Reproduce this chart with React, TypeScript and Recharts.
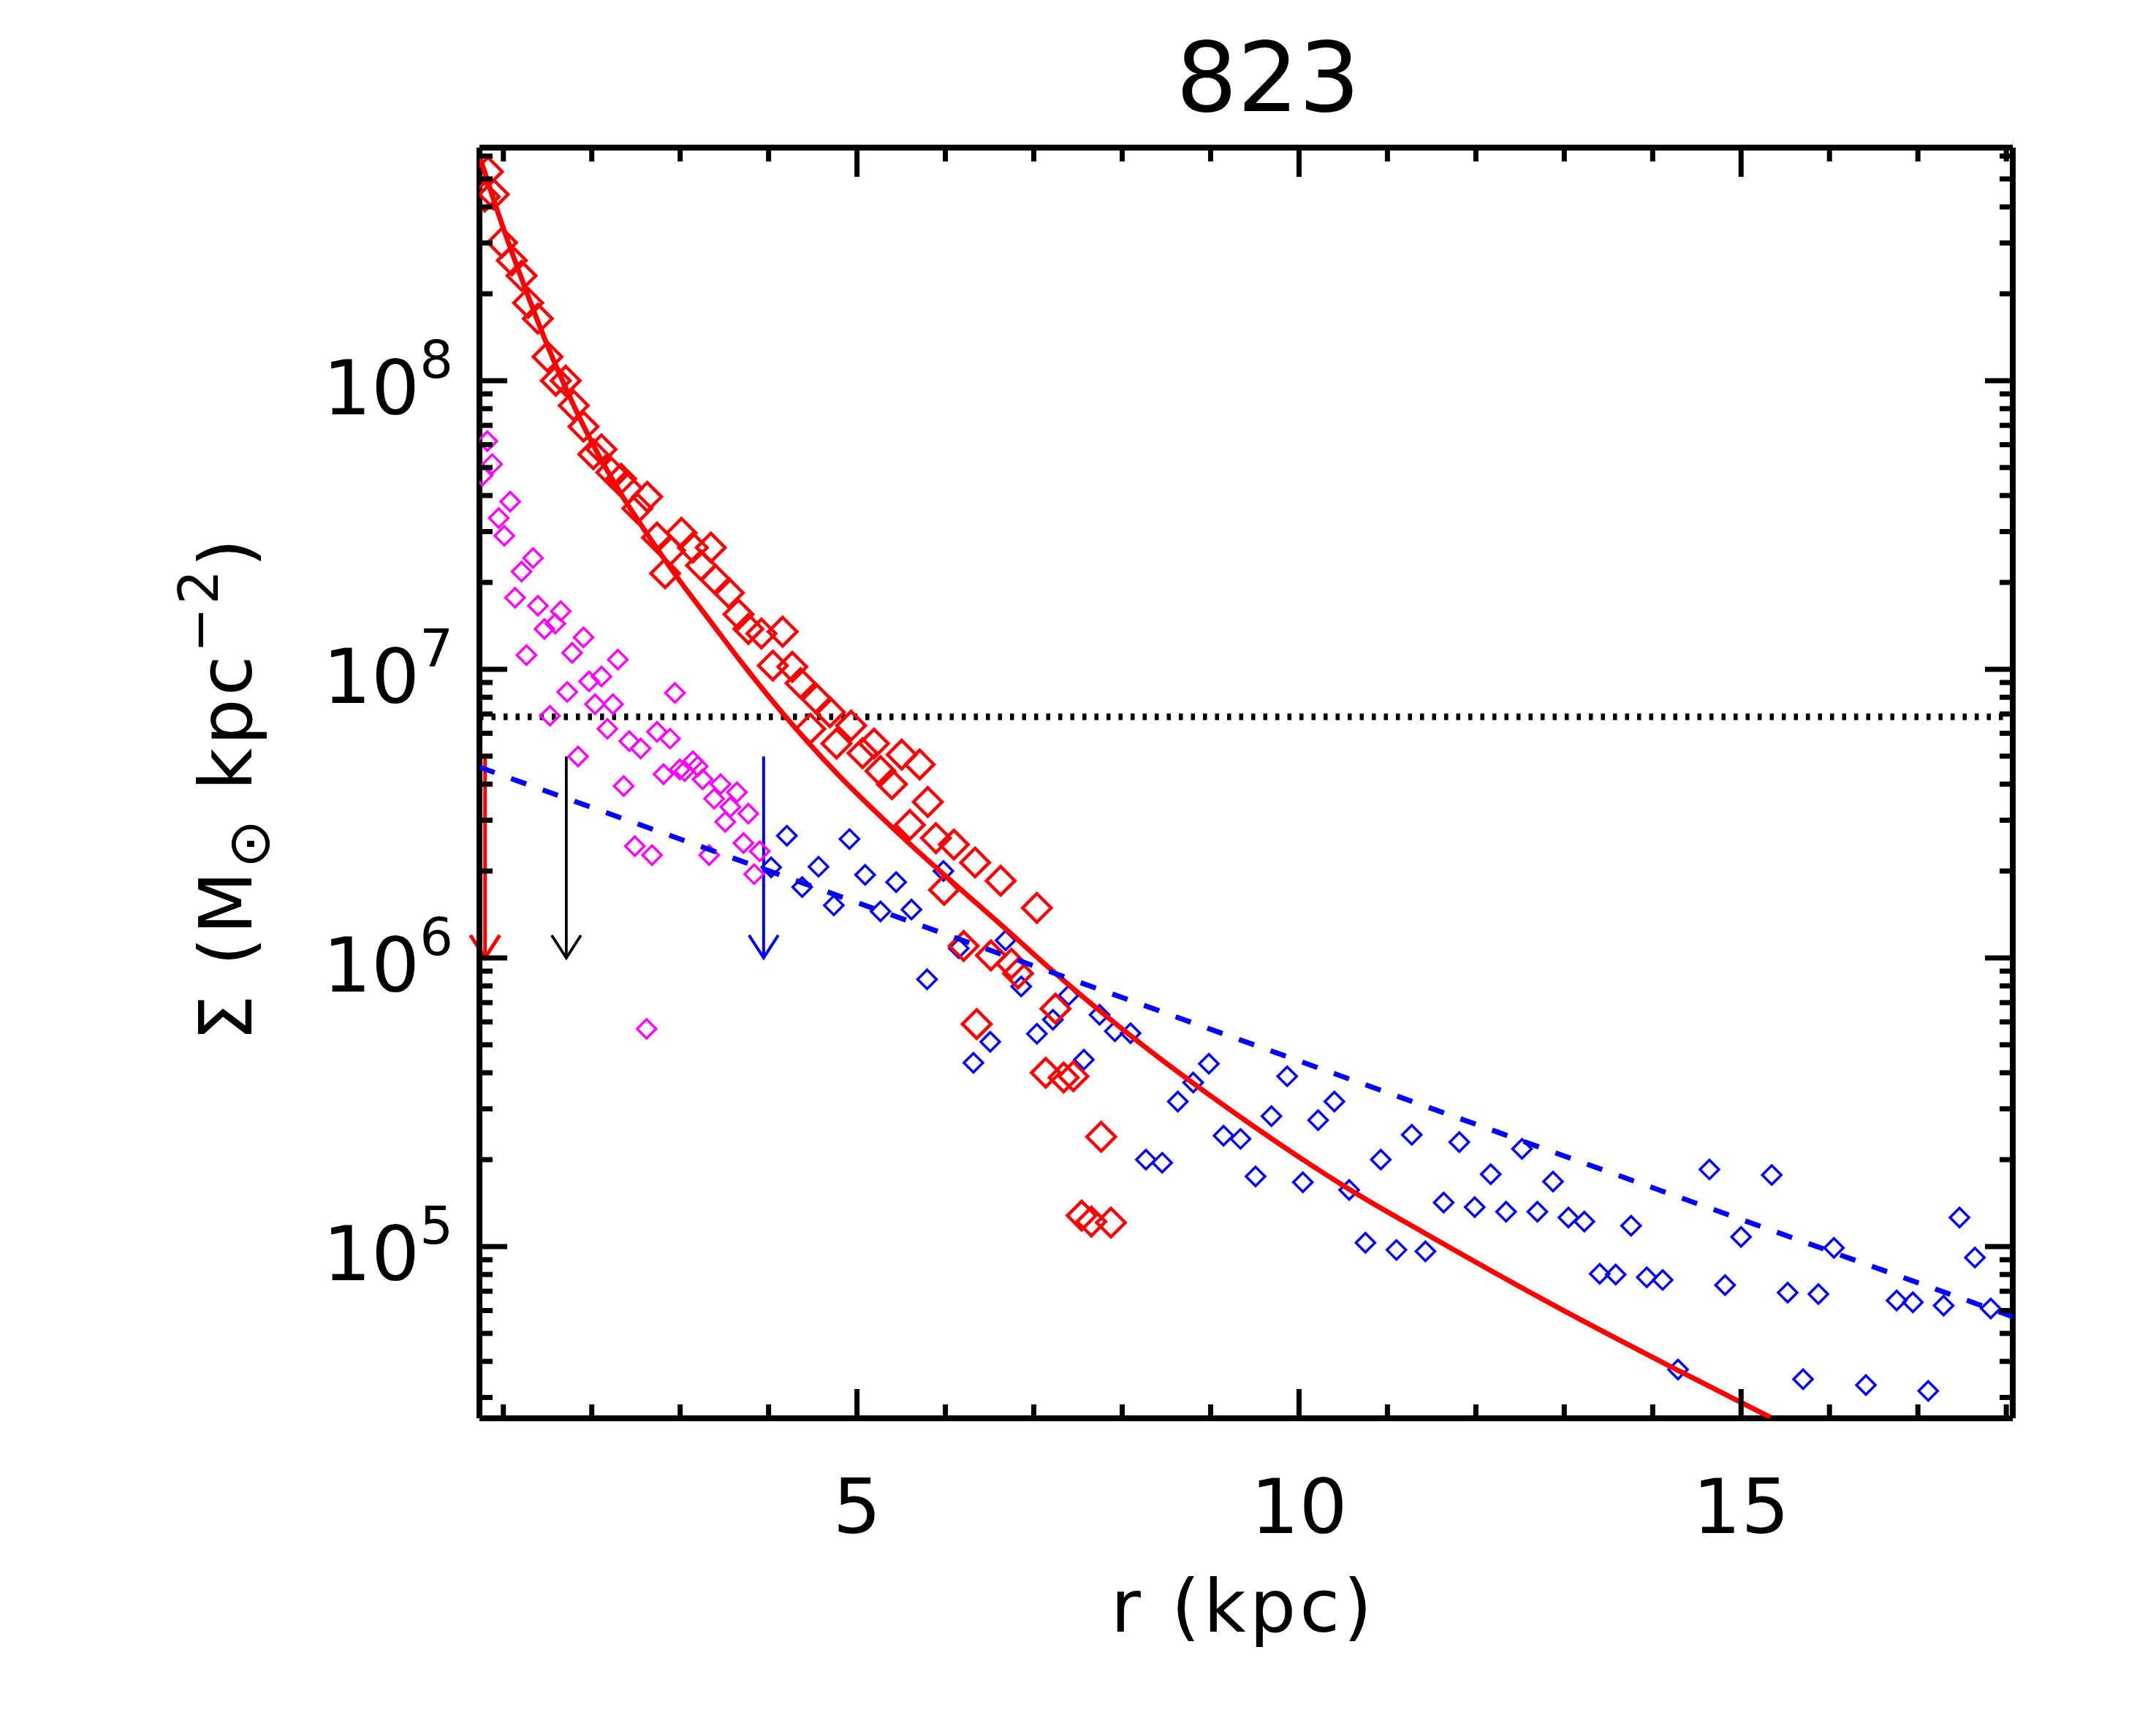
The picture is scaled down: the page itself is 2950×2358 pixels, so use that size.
import { ScatterChart, Scatter, XAxis, YAxis, ReferenceLine } from "recharts";

const W = 2950;
const H = 2358;
const PLOT = { left: 656, right: 2754, top: 202, bottom: 1941 };
const PW = PLOT.right - PLOT.left;
const PH = PLOT.bottom - PLOT.top;
const FONT = '"DejaVu Sans", Verdana, sans-serif';

// axes
const rDomain = [0.7295, 18.073];
const sigmaDomain = [2.54e4, 6.42e8];
const xTicks = [1, 2, 3, 4, 5, 6, 7, 8, 9, 10, 11, 12, 13, 14, 15, 16, 17, 18];
const xMajorTicks = [5, 10, 15];
const xTickLabels = ["5", "10", "15"];
const yTicks = [
    3e4, 4e4, 5e4, 6e4, 7e4, 8e4, 9e4,
    1e5, 2e5, 3e5, 4e5, 5e5, 6e5, 7e5, 8e5, 9e5,
    1e6, 2e6, 3e6, 4e6, 5e6, 6e6, 7e6, 8e6, 9e6,
    1e7, 2e7, 3e7, 4e7, 5e7, 6e7, 7e7, 8e7, 9e7,
    1e8, 2e8, 3e8, 4e8, 5e8, 6e8,
];
const yMajorTicks = [1e5, 1e6, 1e7, 1e8];
const yTickExponents = ["5", "6", "7", "8"];

// [r (kpc), Sigma]
const redPoints = [
    [0.826, 5.30e8], [0.892, 4.42e8], [0.789, 4.34e8], [0.985, 3.01e8], [1.096, 2.61e8],
    [1.206, 2.31e8], [1.28, 1.86e8], [1.39, 1.64e8], [1.5, 1.21e8], [1.594, 1.0e8],
    [1.705, 1.0e8], [1.797, 8.2e7], [1.907, 6.93e7], [2.018, 5.56e7], [2.11, 5.78e7],
    [2.221, 4.81e7], [2.332, 4.57e7], [2.406, 4.23e7], [2.516, 3.61e7], [2.627, 3.96e7],
    [2.738, 2.86e7], [2.83, 2.15e7], [3.015, 2.97e7], [2.885, 2.58e7], [3.144, 2.64e7],
    [3.347, 2.64e7], [3.236, 2.29e7], [3.402, 2.04e7], [3.55, 1.84e7], [3.66, 1.55e7],
    [3.771, 1.38e7], [3.919, 1.33e7], [4.159, 1.35e7], [4.048, 1.03e7], [4.269, 1.02e7],
    [4.362, 8.95e6], [4.546, 7.87e6], [4.694, 7.1e6], [4.472, 6.22e6], [4.768, 5.53e6],
    [4.934, 6.38e6], [5.063, 5.12e6], [5.192, 5.53e6], [5.266, 4.44e6], [5.395, 4.0e6],
    [5.506, 5.06e6], [5.709, 4.68e6], [5.801, 3.47e6], [5.598, 2.89e6], [5.893, 2.6e6],
    [6.096, 2.47e6], [6.336, 2.14e6], [5.985, 1.72e6], [6.207, 1.1e6], [6.354, 5.9e5],
    [6.625, 1.85e6], [7.035, 1.49e6], [6.515, 1.02e6], [6.747, 9.55e5], [6.821, 8.83e5],
    [7.245, 6.67e5], [7.135, 4.0e5], [7.338, 3.85e5], [7.448, 3.89e5], [7.762, 2.4e5],
    [7.541, 1.28e5], [7.651, 1.22e5], [7.873, 1.21e5],
];

const magentaPoints = [
    [0.819, 6.17e7], [0.874, 5.14e7], [0.763, 4.69e7], [1.077, 3.81e7], [0.948, 3.34e7],
    [1.011, 2.9e7], [1.336, 2.43e7], [1.206, 2.18e7], [1.132, 1.77e7], [1.391, 1.66e7],
    [1.649, 1.59e7], [1.465, 1.38e7], [1.587, 1.44e7], [1.907, 1.29e7], [1.262, 1.12e7],
    [1.778, 1.14e7], [2.295, 1.08e7], [2.11, 9.44e6], [1.97, 9.08e6], [1.723, 8.34e6],
    [2.941, 8.28e6], [2.037, 7.57e6], [2.24, 7.57e6], [1.527, 6.9e6], [2.177, 6.22e6],
    [2.424, 5.64e6], [2.553, 5.32e6], [2.738, 6.07e6], [2.885, 5.75e6], [1.845, 4.99e6],
    [2.812, 4.33e6], [2.996, 4.5e6], [3.144, 4.8e6], [3.199, 4.61e6], [3.051, 4.44e6],
    [3.254, 4.16e6], [3.457, 4.0e6], [3.642, 3.75e6], [3.384, 3.56e6], [3.568, 3.33e6],
    [3.771, 3.16e6], [3.51, 2.96e6], [2.361, 3.94e6], [2.487, 2.44e6], [2.682, 2.27e6],
    [3.328, 2.27e6], [3.716, 2.5e6], [3.9, 2.34e6], [3.837, 1.95e6], [2.62, 5.68e5],
];

const bluePoints = [
    [4.029, 2.06e6], [4.207, 2.65e6], [4.38, 1.76e6], [4.565, 2.07e6], [4.738, 1.52e6],
    [4.915, 2.58e6], [5.092, 1.94e6], [5.266, 1.45e6], [5.443, 1.83e6], [5.616, 1.47e6],
    [5.793, 8.43e5], [5.978, 2.0e6], [6.151, 1.08e6], [6.317, 4.33e5], [6.681, 1.15e6],
    [6.858, 7.96e5], [7.393, 7.41e5], [7.216, 6.11e5], [7.035, 5.46e5], [7.744, 6.35e5],
    [7.917, 5.57e5], [8.094, 5.48e5], [6.507, 5.12e5], [7.566, 4.44e5], [8.98, 4.3e5],
    [8.803, 3.7e5], [8.629, 3.18e5], [9.866, 3.89e5], [9.688, 2.83e5], [10.4, 3.18e5],
    [10.216, 2.74e5], [9.146, 2.42e5], [9.338, 2.36e5], [8.268, 2.0e5], [8.452, 1.95e5],
    [9.508, 1.75e5], [10.043, 1.67e5], [10.567, 1.57e5], [11.275, 2.44e5], [10.925, 2.0e5],
    [10.751, 1.03e5], [11.102, 9.73e4], [11.43, 9.62e4], [11.813, 2.3e5], [12.522, 2.18e5],
    [12.168, 1.78e5], [12.873, 1.68e5], [14.642, 1.85e5], [15.347, 1.77e5], [11.636, 1.42e5],
    [11.987, 1.37e5], [12.342, 1.32e5], [12.696, 1.32e5], [13.047, 1.26e5], [13.227, 1.22e5],
    [13.756, 1.18e5], [15.0, 1.08e5], [13.401, 8.04e4], [13.582, 8.0e4], [13.933, 7.82e4],
    [14.113, 7.66e4], [14.819, 7.35e4], [15.527, 6.92e4], [15.875, 6.84e4], [14.287, 3.75e4],
    [15.701, 3.47e4], [16.05, 9.89e4], [17.471, 1.26e5], [17.645, 9.16e4], [16.76, 6.5e4],
    [16.943, 6.41e4], [17.291, 6.24e4], [17.824, 6.1e4], [16.412, 3.31e4], [17.117, 3.16e4],
];

// red fitted profile
const bulgeFit = [
    [0.7295, 6.01e8], [0.966, 3.62e8], [1.225, 2.18e8], [1.483, 1.36e8], [1.704, 9.46e7],
    [2.0, 6.12e7], [2.33, 4.06e7], [2.664, 2.83e7], [2.959, 2.1e7], [3.325, 1.49e7],
    [3.66, 1.09e7], [4.14, 7.16e6], [4.768, 4.37e6], [5.469, 2.7e6], [6.747, 1.21e6],
    [7.25, 8.81e5], [8.223, 5.01e5], [9.33, 2.82e5], [10.567, 1.58e5], [11.427, 1.11e5],
    [13.006, 5.97e4], [14.303, 3.7e4], [15.331, 2.56e4],
];

// blue dashed disk line (end points)
const diskFit = [[0.7295, 4.58e6], [18.073, 5.71e4]];

const threshold = 6.84e6;

// vertical arrows
const arrowR = [0.793, 1.712, 3.944];
const arrowColors = ["#ff0000", "#000000", "#0000ff"];
const arrowWidths = [5, 3.8, 4];
const arrowTop = 4.99e6;
const arrowBottom = 1.0e6;

const toRows = (pts: number[][]) => pts.map(([r, s]) => ({ r, s }));

const diamond = (color: string, half: number, sw: number) => (props: any) => {
    const { cx, cy } = props;
    if (cx == null || cy == null) return <g />;
    return (
        <path
            d={`M${cx},${cy - half}L${cx + half},${cy}L${cx},${cy + half}L${cx - half},${cy}Z`}
            fill="none"
            stroke={color}
            strokeWidth={sw}
        />
    );
};

const noMark = () => <g />;

const arrowShape = (color: string, sw: number) => (p: any) => (
    <g>
        <line x1={p.x1} y1={p.y1} x2={p.x2} y2={p.y2} stroke={color} strokeWidth={sw} />
        <path
            d={`M${p.x2 - 20},${p.y2 - 31}L${p.x2},${p.y2}L${p.x2 + 20},${p.y2 - 31}`}
            fill="none"
            stroke={color}
            strokeWidth={sw}
        />
    </g>
);

function XTick({ x, y, payload }: any) {
    const v = payload.value;
    const idx = xMajorTicks.indexOf(v);
    const len = idx >= 0 ? 40 : 19;
    return (
        <g>
            <line x1={x} y1={y} x2={x} y2={y - len} stroke="#000" strokeWidth={7} />
            <line x1={x} y1={y - PH} x2={x} y2={y - PH + len} stroke="#000" strokeWidth={7} />
            {idx >= 0 && (
                <text x={x} y={y + 157} textAnchor="middle" fontFamily={FONT} fontSize={104} fill="#000">
                    {xTickLabels[idx]}
                </text>
            )}
        </g>
    );
}

function YTick({ x, y, payload }: any) {
    const v = payload.value;
    const idx = yMajorTicks.indexOf(v);
    const len = idx >= 0 ? 38 : 18;
    return (
        <g>
            <line x1={x} y1={y} x2={x + len} y2={y} stroke="#000" strokeWidth={7} />
            <line x1={x + PW} y1={y} x2={x + PW - len} y2={y} stroke="#000" strokeWidth={7} />
            {idx >= 0 && (
                <text x={x - 36} y={y + 46} textAnchor="end" fontFamily={FONT} fontSize={104} fill="#000">
                    10
                    <tspan dy={-50} fontSize={72}>{yTickExponents[idx]}</tspan>
                </text>
            )}
        </g>
    );
}

function XTitle() {
    return (
        <text x={1701} y={2233} textAnchor="middle" fontFamily={FONT} fontSize={100} letterSpacing={5} fill="#000">
            r (kpc)
        </text>
    );
}

function YTitle() {
    return (
        <text
            transform="translate(344, 1079) rotate(-90)"
            textAnchor="middle"
            fontFamily={FONT}
            fontSize={100}
            letterSpacing={4}
            fill="#000"
        >
            Σ (M
            <tspan fontSize={80} dy={24}>⊙</tspan>
            <tspan dy={-24}> kpc</tspan>
            <tspan fontSize={74} dy={-46}>−2</tspan>
            <tspan dy={46}>)</tspan>
        </text>
    );
}

export default function App() {
    const yAxisW = 60;
    const xAxisH = 60;
    return (
        <div style={{ position: "absolute", left: 0, top: 0, width: W, height: H, background: "#fff" }}>
            <svg width={W} height={200} style={{ position: "absolute", left: 0, top: 0 }}>
                <text x={1735} y={152} textAnchor="middle" fontFamily={FONT} fontSize={132} fill="#000">
                    823
                </text>
            </svg>
            <ScatterChart
                width={W}
                height={H}
                margin={{
                    top: PLOT.top,
                    right: W - PLOT.right,
                    bottom: H - PLOT.bottom - xAxisH,
                    left: PLOT.left - yAxisW,
                }}
            >
                <XAxis
                    type="number"
                    dataKey="r"
                    domain={rDomain}
                    ticks={xTicks}
                    interval={0}
                    allowDataOverflow
                    height={xAxisH}
                    tickSize={0}
                    tickMargin={0}
                    tickLine={false}
                    tick={(p: any) => <XTick {...p} />}
                    axisLine={{ stroke: "#000", strokeWidth: 8 }}
                    label={<XTitle />}
                />
                <YAxis
                    type="number"
                    dataKey="s"
                    scale="log"
                    domain={sigmaDomain}
                    ticks={yTicks}
                    interval={0}
                    allowDataOverflow
                    width={yAxisW}
                    tickSize={0}
                    tickMargin={0}
                    tickLine={false}
                    tick={(p: any) => <YTick {...p} />}
                    axisLine={{ stroke: "#000", strokeWidth: 8 }}
                    label={<YTitle />}
                />
                <ReferenceLine x={rDomain[1]} stroke="#000" strokeWidth={8} />
                <ReferenceLine y={sigmaDomain[1]} stroke="#000" strokeWidth={8} />
                <ReferenceLine y={threshold} stroke="#000" strokeWidth={9} strokeDasharray="5.5 11" />

                <Scatter data={toRows(magentaPoints)} shape={diamond("#ff00ff", 13, 3.5)} isAnimationActive={false} />
                <Scatter data={toRows(bluePoints)} shape={diamond("#0000ff", 13, 3.5)} isAnimationActive={false} />
                <Scatter data={toRows(redPoints)} shape={diamond("#ff0000", 19.5, 4.5)} isAnimationActive={false} />
                <Scatter
                    data={toRows(bulgeFit)}
                    shape={noMark}
                    line={{ stroke: "#ff0000", strokeWidth: 7, fill: "none" }}
                    lineJointType="monotoneX"
                    isAnimationActive={false}
                />
                <Scatter
                    data={toRows(diskFit)}
                    shape={noMark}
                    line={{ stroke: "#0000ff", strokeWidth: 7, strokeDasharray: "22 24", fill: "none" }}
                    isAnimationActive={false}
                />
                {arrowR.map((r, i) => (
                    <ReferenceLine
                        key={`arrow-${i}`}
                        segment={[
                            { x: r, y: arrowTop },
                            { x: r, y: arrowBottom },
                        ]}
                        ifOverflow="visible"
                        shape={arrowShape(arrowColors[i], arrowWidths[i])}
                    />
                ))}
            </ScatterChart>
        </div>
    );
}
